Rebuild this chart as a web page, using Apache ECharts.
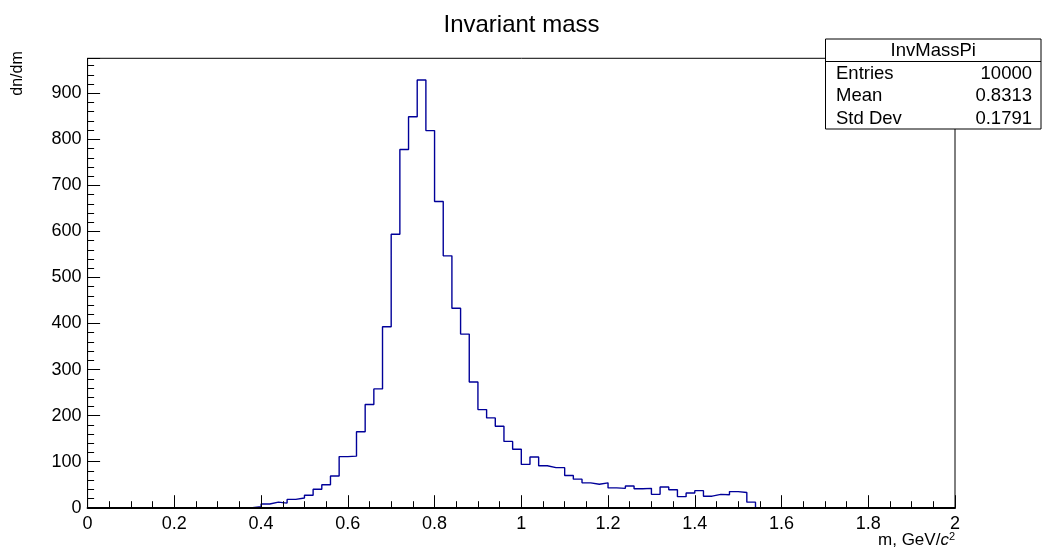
<!DOCTYPE html>
<html>
<head>
<meta charset="utf-8">
<script src="https://cdn.jsdelivr.net/npm/echarts@6/dist/echarts.min.js"></script>
<style>
html,body{margin:0;padding:0;background:#fff;}
#chart{width:1043px;height:553px;}
</style>
</head>
<body>
<div id="chart"></div>
<script>
// ---- data ----
const binLow = 0;
const binWidth = 0.02;
const counts = [
  0,0,0,0,0,0,0,0,0,0,
  0,0,0,0,0,0,0,0,0,2,
  8,12,10,18,21,27,40,50,69,111,
  112,165,224,258,393,594,778,849,929,819,
  665,547,433,377,273,213,195,177,144,127,
  94,110,91,87,87,70,62,54,51,54,
  43,42,47,41,42,29,45,39,24,32,
  37,25,29,28,35,33,12,0,0,0,
  0,0,0,0,0,0,0,0,0,0,
  0,0,0,0,0,0,0,0,0,0
];
const xRange = [0, 2];
const yRange = [0, 976];
const titleText = 'Invariant mass';
const statName = 'InvMassPi';
const statLabels = ['Entries', 'Mean', 'Std Dev'];
const statValues = ['10000', '0.8313', '0.1791'];
const yTitle = 'dn/dm';

// ---- build step points ----
const pts = counts.map((v, i) => [binLow + i * binWidth, v]);
pts.push([binLow + counts.length * binWidth, counts[counts.length - 1]]);

const FONT = 'Liberation Sans, Arial, Helvetica, sans-serif';
const chart = echarts.init(document.getElementById('chart'), null, {renderer: 'canvas'});

const G = {left: 87.6, right: 88, top: 58.3, bottom: 45.3};
const boxL = 825.5, boxT = 39, boxW = 215.5, boxH = 90;

const statGraphics = [
  {type: 'rect', z: 100, shape: {x: boxL, y: boxT, width: boxW, height: boxH},
   style: {fill: '#fff', stroke: '#000', lineWidth: 1}},
  {type: 'line', z: 101, shape: {x1: boxL, y1: 61.5, x2: boxL + boxW, y2: 61.5},
   style: {stroke: '#000', lineWidth: 1}},
  {type: 'text', z: 102, x: boxL + boxW / 2, y: 51,
   style: {text: statName, font: '18.5px ' + FONT, fill: '#000', align: 'center', verticalAlign: 'middle'}}
];
statLabels.forEach((lab, k) => {
  const yy = 73.5 + k * 22.5;
  statGraphics.push({type: 'text', z: 102, x: 836, y: yy,
    style: {text: lab, font: '18.5px ' + FONT, fill: '#000', align: 'left', verticalAlign: 'middle'}});
  statGraphics.push({type: 'text', z: 102, x: 1032, y: yy,
    style: {text: statValues[k], font: '18.5px ' + FONT, fill: '#000', align: 'right', verticalAlign: 'middle'}});
});

const option = {
  animation: false,
  backgroundColor: '#fff',
  title: {
    text: titleText, left: 'center', top: 8,
    textStyle: {fontFamily: FONT, fontSize: 24, fontWeight: 'normal', color: '#000'}
  },
  grid: Object.assign({show: true, borderColor: '#000', borderWidth: 1, backgroundColor: 'transparent', containLabel: false}, G),
  xAxis: {
    type: 'value', min: xRange[0], max: xRange[1], interval: 0.2, z: 5,
    axisLine: {show: true, onZero: false, lineStyle: {color: '#000', width: 2}},
    axisTick: {show: true, inside: true, length: 12.5, lineStyle: {color: '#000', width: 1}},
    minorTick: {show: true, splitNumber: 4, length: 6.5, lineStyle: {color: '#000', width: 1}},
    axisLabel: {color: '#000', fontFamily: FONT, fontSize: 18, margin: 7},
    splitLine: {show: false}
  },
  yAxis: [
    {
      type: 'value', min: yRange[0], max: yRange[1], interval: 100, z: 5, position: 'left',
      axisLine: {show: true, onZero: false, lineStyle: {color: '#000', width: 1}},
      axisTick: {show: true, inside: true, length: 12.5, lineStyle: {color: '#000', width: 1}},
      axisLabel: {color: '#000', fontFamily: FONT, fontSize: 18, margin: 6,
        formatter: v => (v % 100 === 0 ? String(v) : '')},
      splitLine: {show: false}
    },
    {
      type: 'value', min: yRange[0], max: yRange[1], interval: 20, z: 5, position: 'left',
      axisLine: {show: false},
      axisTick: {show: true, inside: true, length: 6.5, lineStyle: {color: '#000', width: 1}},
      axisLabel: {show: false},
      splitLine: {show: false}
    }
  ],
  series: [{
    type: 'line', step: 'end', data: pts, yAxisIndex: 0,
    symbol: 'none', z: 2,
    lineStyle: {color: '#000099', width: 1.4}
  }],
  graphic: [
    {type: 'text', x: 18, y: 73.5, rotation: Math.PI / 2,
     style: {text: yTitle, font: '16px ' + FONT, fill: '#000', align: 'center', verticalAlign: 'middle'}},
    {type: 'text', x: 955, y: 540,
     style: {
       text: '{a|m, GeV/}{i|c}{s|2}',
       align: 'right', verticalAlign: 'middle',
       rich: {
         a: {font: '17px ' + FONT, fill: '#000'},
         i: {font: 'italic 17px ' + FONT, fill: '#000'},
         s: {font: '11px ' + FONT, fill: '#000', verticalAlign: 'top', padding: [0, 0, 6, 0]}
       }
     }}
  ].concat(statGraphics)
};
chart.setOption(option);
</script>
</body>
</html>
